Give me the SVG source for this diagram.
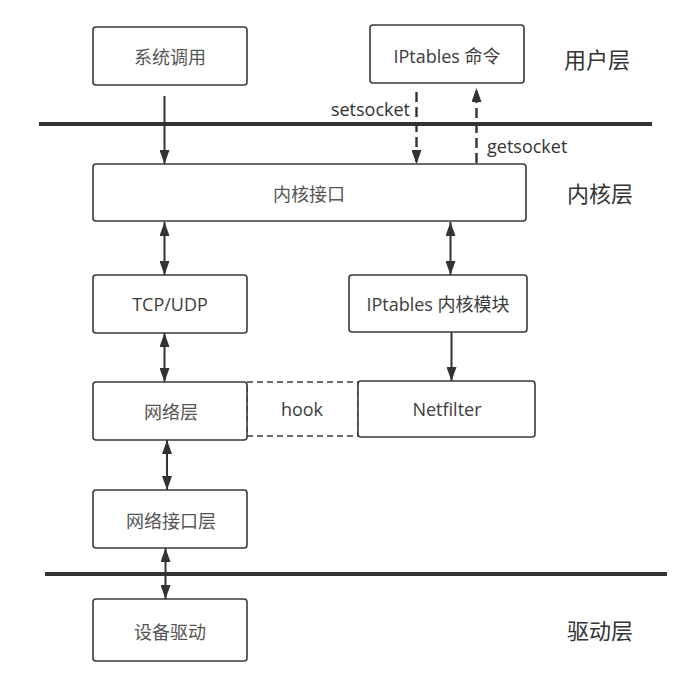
<svg xmlns="http://www.w3.org/2000/svg" width="687" height="689" viewBox="0 0 687 689">
<style>
.box{fill:#fff;stroke:#3a3a3a;stroke-width:1.6}
.dbox{fill:#fff;stroke:#3a3a3a;stroke-width:1.6;stroke-dasharray:6 4}
.t{font-family:"Open Sans","Noto Sans CJK SC",sans-serif;font-size:18px;fill:#3c3c3c;text-anchor:middle;dominant-baseline:central}
.cj{fill:#555}
.layer{font-family:"Open Sans","Noto Sans CJK SC",sans-serif;font-size:22px;fill:#333;text-anchor:middle;dominant-baseline:central}
.lbl{font-family:"Open Sans","Noto Sans CJK SC",sans-serif;font-size:18px;fill:#333;dominant-baseline:central}
.c{stroke:#333;stroke-width:2;fill:none}
.d{stroke:#333;stroke-width:2.4;fill:none;stroke-dasharray:10 5}
.sep{stroke:#333;stroke-width:4}
</style>
<defs>
<marker id="ah" markerUnits="userSpaceOnUse" markerWidth="14" markerHeight="10" refX="14" refY="5" orient="auto-start-reverse">
<path d="M0,0 L14,5 L0,10 z" fill="#333"/>
</marker>
</defs>
<g id="separators">
<line class="sep" x1="39" y1="124" x2="652" y2="124"/>
<line class="sep" x1="45" y1="574" x2="667" y2="574"/>
</g>
<g id="layers">
<text class="layer" x="597" y="59">用户层</text>
<text class="layer" x="600" y="193">内核层</text>
<text class="layer" x="600" y="630">驱动层</text>
</g>
<g id="node-syscall"><rect class="box" x="93" y="27" width="154" height="58" rx="3"/><text class="t cj" x="170" y="57">系统调用</text></g>
<g id="node-iptables-cmd"><rect class="box" x="370" y="25" width="154" height="58" rx="3"/><text class="t" x="447" y="56">IPtables 命令</text></g>
<g id="node-kernel-if"><rect class="box" x="93" y="164" width="433" height="57" rx="3"/><text class="t cj" x="309" y="194">内核接口</text></g>
<g id="node-tcpudp"><rect class="box" x="93" y="275" width="154" height="58" rx="3"/><text class="t" x="170" y="304">TCP/UDP</text></g>
<g id="node-iptables-mod"><rect class="box" x="349" y="275" width="178" height="57" rx="3"/><text class="t" x="438" y="304">IPtables 内核模块</text></g>
<g id="node-hook"><rect class="dbox" x="247" y="382" width="111" height="54"/><text class="t" x="302" y="409">hook</text></g>
<g id="node-network"><rect class="box" x="93" y="382" width="154" height="58" rx="3"/><text class="t cj" x="171" y="412">网络层</text></g>
<g id="node-netfilter"><rect class="box" x="358" y="381" width="177" height="56" rx="3"/><text class="t" x="447" y="409">Netfilter</text></g>
<g id="node-netif"><rect class="box" x="93" y="490" width="154" height="58" rx="3"/><text class="t cj" x="171" y="521">网络接口层</text></g>
<g id="node-driver"><rect class="box" x="93" y="599" width="154" height="62" rx="3"/><text class="t cj" x="170" y="632">设备驱动</text></g>
<g id="connectors">
<line class="c" x1="164.5" y1="96" x2="164.5" y2="164" marker-end="url(#ah)"/>
<line class="d" x1="416.5" y1="92" x2="416.5" y2="164" marker-end="url(#ah)"/>
<line class="d" x1="476.5" y1="163" x2="476.5" y2="88" marker-end="url(#ah)"/>
<line class="c" x1="164.5" y1="222" x2="164.5" y2="275" marker-start="url(#ah)" marker-end="url(#ah)"/>
<line class="c" x1="450.5" y1="222" x2="450.5" y2="275" marker-start="url(#ah)" marker-end="url(#ah)"/>
<line class="c" x1="164.5" y1="333" x2="164.5" y2="382" marker-start="url(#ah)" marker-end="url(#ah)"/>
<line class="c" x1="451.5" y1="332" x2="451.5" y2="381" marker-end="url(#ah)"/>
<line class="c" x1="167" y1="440" x2="167" y2="490" marker-start="url(#ah)" marker-end="url(#ah)"/>
<line class="c" x1="165.5" y1="548" x2="165.5" y2="599" marker-start="url(#ah)" marker-end="url(#ah)"/>
<text class="lbl" x="410" y="109" text-anchor="end">setsocket</text>
<text class="lbl" x="487" y="146">getsocket</text>
</g>
</svg>
